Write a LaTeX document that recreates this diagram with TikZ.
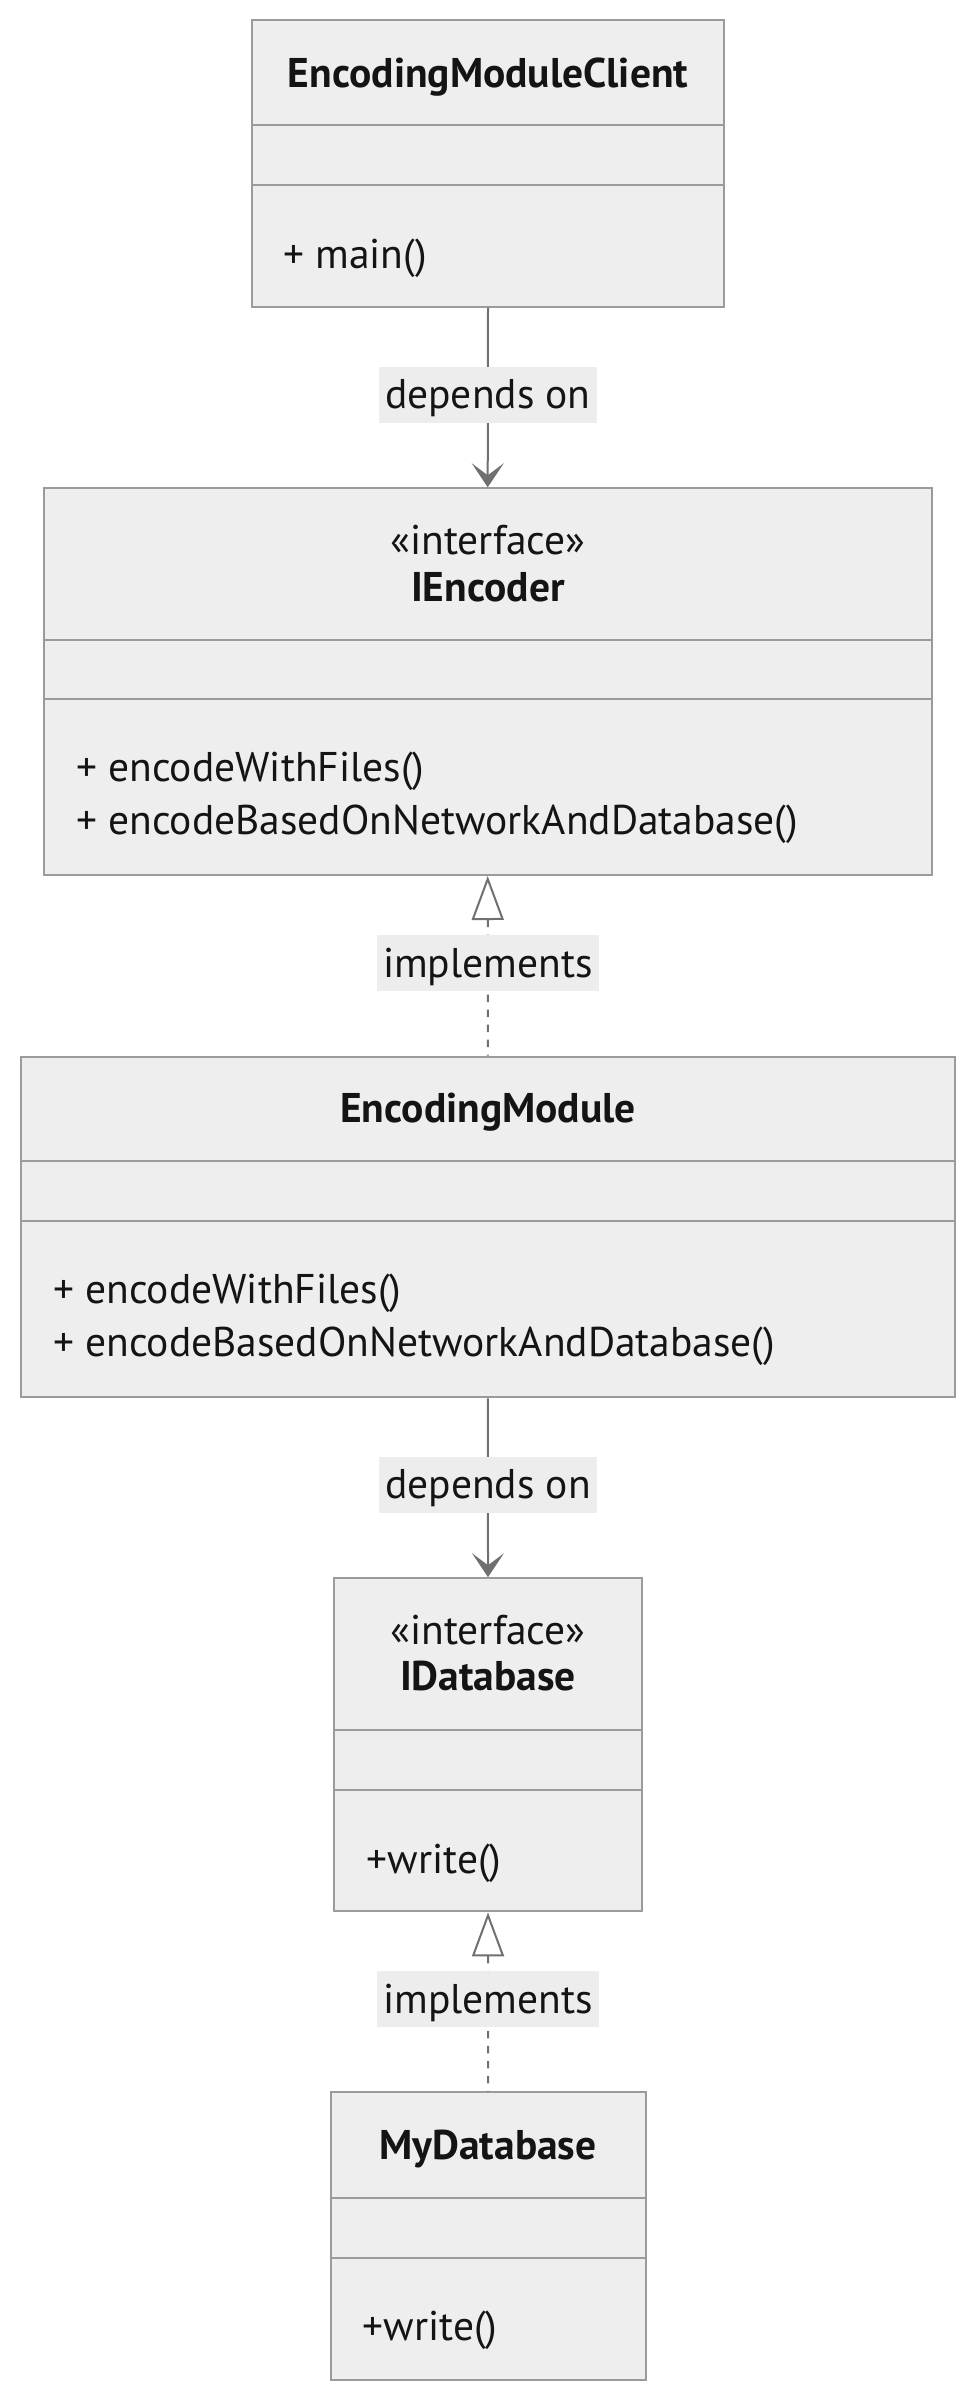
\documentclass[tikz,border=0pt]{standalone}
\usepackage{fontspec}
\setmainfont{PT Sans}
\usetikzlibrary{arrows.meta}
\definecolor{boxfill}{HTML}{EEEEEE}
\definecolor{boxline}{HTML}{9B9B9B}
\definecolor{conn}{HTML}{707070}
\definecolor{txt}{HTML}{141414}
\definecolor{lblfill}{HTML}{EDEDED}
\newlength\calw
\def\fsz{37}
\def\fsl{44}
\AtBeginDocument{%
  \settowidth\calw{\fontsize{20pt}{24pt}\selectfont + encodeBasedOnNetworkAndDatabase()}%
  \pgfmathsetmacro\fsz{20*722/\calw}%
  \pgfmathsetmacro\fsl{1.2*\fsz}%
  \typeout{CALW=\the\calw, FSZ=\fsz}%
}
\newcommand\mfont{\fontsize{\fsz pt}{\fsl pt}\selectfont}
\begin{document}
\begin{tikzpicture}[x=1pt,y=-1pt,
  cbox/.style={draw=boxline,fill=boxfill,line width=2pt,inner sep=0pt,rectangle},
  divider/.style={draw=boxline,line width=2pt},
  ttl/.style={anchor=base,inner sep=0pt,text=txt,font=\mfont\bfseries},
  ster/.style={anchor=base,inner sep=0pt,text=txt,font=\mfont},
  mth/.style={anchor=base west,inner sep=0pt,text=txt,font=\mfont},
  lbl/.style={fill=lblfill,text=txt,font=\mfont,inner xsep=6.5pt,inner ysep=0pt,
    minimum height=56pt,text height=27.5pt,text depth=0pt,yshift=2.6pt},
  dep/.style={draw=conn,line width=2pt,-{Stealth[length=24pt,width=32pt,inset=12pt]}},
  impl/.style={draw=conn,line width=2pt,dash pattern=on 7.5pt off 7.5pt,
    {Triangle[open,length=44pt,width=32pt,fill=white]}-}
]
\useasboundingbox (0,0) rectangle (976,2400);
\fill[white] (0,0) rectangle (976,2400);

% EncodingModuleClient
\node[cbox,minimum width=472.6pt,minimum height=286.7pt] (c1) at (488,163.35) {};
\draw[divider] (c1.north west) ++(0,106) -- ++(472.6,0);
\draw[divider] (c1.north west) ++(0,165.7) -- ++(472.6,0);
\node[ttl] (c1t) at (488,87.3) {EncodingModuleClient};
\node[mth] (c1m1) at (283.3,268.3) {+ main()};

% IEncoder
\node[cbox,minimum width=888.2pt,minimum height=386.7pt] (ie) at (487.7,681.65) {};
\draw[divider] (ie.north west) ++(0,152.4) -- ++(888.2,0);
\draw[divider] (ie.north west) ++(0,211.7) -- ++(888.2,0);
\node[ster] (ies) at (488,554.3) {«interface»};
\node[ttl] (iet) at (488,601) {IEncoder};
\node[mth] (iem1) at (76,781.7) {+ encodeWithFiles()};
\node[mth] (iem2) at (76,834.5) {+ encodeBasedOnNetworkAndDatabase()};

% EncodingModule
\node[cbox,minimum width=934.9pt,minimum height=340.6pt] (em) at (487.95,1227) {};
\draw[divider] (em.north west) ++(0,105.6) -- ++(934.9,0);
\draw[divider] (em.north west) ++(0,165.6) -- ++(934.9,0);
\node[ttl] (emt) at (488,1122.3) {EncodingModule};
\node[mth] (emm1) at (53,1303.5) {+ encodeWithFiles()};
\node[mth] (emm2) at (53,1356) {+ encodeBasedOnNetworkAndDatabase()};

% IDatabase
\node[cbox,minimum width=307.4pt,minimum height=333.2pt] (idb) at (488,1744.8) {};
\draw[divider] (idb.north west) ++(0,152.8) -- ++(307.4,0);
\draw[divider] (idb.north west) ++(0,212.5) -- ++(307.4,0);
\node[ster] (idbs) at (488,1644) {«interface»};
\node[ttl] (idbt) at (488,1690) {IDatabase};
\node[mth] (idbm1) at (366.7,1873) {+write()};

% MyDatabase
\node[cbox,minimum width=315pt,minimum height=287.7pt] (md) at (488.2,2236.15) {};
\draw[divider] (md.north west) ++(0,106.7) -- ++(315,0);
\draw[divider] (md.north west) ++(0,166.7) -- ++(315,0);
\node[ttl] (mdt) at (488,2159) {MyDatabase};
\node[mth] (mdm1) at (362.7,2340.5) {+write()};

% connectors
\draw[dep] (c1.south) -- node[lbl] (l1) {depends on} (ie.north);
\draw[impl] (ie.south) -- node[lbl] (l2) {implements} (em.north);
\draw[dep] (em.south) -- node[lbl] (l3) {depends on} (idb.north);
\draw[impl] (idb.south) -- node[lbl] (l4) {implements} (md.north);
\end{tikzpicture}
\end{document}
